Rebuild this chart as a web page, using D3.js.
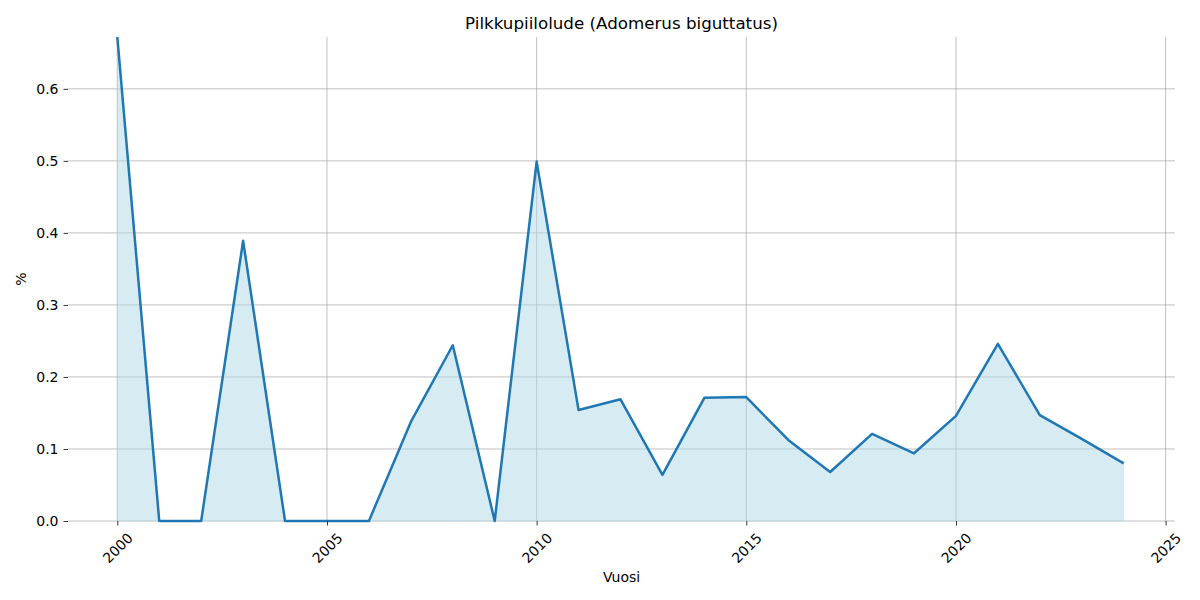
<!DOCTYPE html>
<html>
<head>
<meta charset="utf-8">
<script src="https://cdn.jsdelivr.net/npm/d3@7"></script>
<style>
  body { margin: 0; background: #fff; }
  text { font-family: "DejaVu Sans", sans-serif; }
</style>
</head>
<body>
<script>
// Data
const years = [2000, 2001, 2002, 2003, 2004, 2005, 2006, 2007, 2008, 2009, 2010, 2011,
               2012, 2013, 2014, 2015, 2016, 2017, 2018, 2019, 2020, 2021, 2022, 2023, 2024];
const values = [0.672, 0, 0, 0.389, 0, 0, 0, 0.1375, 0.244, 0, 0.499, 0.154,
                0.169, 0.064, 0.171, 0.172, 0.1125, 0.068, 0.121, 0.094, 0.146, 0.246, 0.147, 0.114, 0.080];
const xTicks = [2000, 2005, 2010, 2015, 2020, 2025];
const yTicks = [0, 0.1, 0.2, 0.3, 0.4, 0.5, 0.6];

const titleText = "Pilkkupiilolude (Adomerus biguttatus)";
const xLabel = "Vuosi";
const yLabel = "%";

/* ---------------------------- */
/* CANVAS                       */
/* ---------------------------- */
const w = 1200, h = 600;
const margins = {top: 37, right: 25, bottom: 79, left: 68};

const data = years.map((y, i) => ({year: y, value: values[i]}));

const svg = d3.select("body").append("svg")
    .attr("width", w)
    .attr("height", h);

// matplotlib-like 5% x margins
const span = years[years.length - 1] - years[0];
const x = d3.scaleLinear()
    .domain([years[0] - span * 0.05, years[years.length - 1] + span * 0.05])
    .range([margins.left - 1, w - margins.right - 1]);
const y = d3.scaleLinear()
    .domain([0, d3.max(values)])
    .range([h - margins.bottom, margins.top]);

// Grid lines
svg.append("g").selectAll("line.xg")
    .data(xTicks)
    .enter().append("line")
        .attr("x1", d => x(d)).attr("x2", d => x(d))
        .attr("y1", margins.top).attr("y2", h - margins.bottom)
        .attr("stroke", "#b0b0b0").attr("stroke-width", 0.8);
svg.append("g").selectAll("line.yg")
    .data(yTicks)
    .enter().append("line")
        .attr("x1", margins.left).attr("x2", w - margins.right)
        .attr("y1", d => y(d)).attr("y2", d => y(d))
        .attr("stroke", "#b0b0b0").attr("stroke-width", 0.8);

// Area fill
const area = d3.area()
    .x(d => x(d.year))
    .y0(y(0))
    .y1(d => y(d.value));
svg.append("path")
    .datum(data)
    .attr("d", area)
    .attr("fill", "lightblue")
    .attr("fill-opacity", 0.5)
    .attr("stroke", "lightblue")
    .attr("stroke-opacity", 0.3);

// Line
const line = d3.line()
    .x(d => x(d.year))
    .y(d => y(d.value));
svg.append("path")
    .datum(data)
    .attr("d", line)
    .attr("fill", "none")
    .attr("stroke", "#1f77b4")
    .attr("stroke-width", 2.5)
    .attr("stroke-linejoin", "round");

// Axes (no spines)
const xAxis = svg.append("g")
    .attr("transform", "translate(0," + (h - margins.bottom) + ")")
    .call(d3.axisBottom(x).tickValues(xTicks).tickFormat(d3.format("d")).tickSize(4.5).tickPadding(4));
xAxis.select(".domain").remove();
// rotated labels centred under each tick, like matplotlib rotation=45
xAxis.selectAll("text")
    .attr("font-size", "14px")
    .attr("fill", "#000")
    .attr("text-anchor", "middle")
    .attr("y", 27)
    .attr("dy", "0.35em")
    .attr("transform", "rotate(-45,0,27)");
xAxis.selectAll("line").attr("stroke", "#000").attr("stroke-width", 0.8);

const yAxis = svg.append("g")
    .attr("transform", "translate(" + margins.left + ",0)")
    .call(d3.axisLeft(y).tickValues(yTicks).tickFormat(d3.format(".1f")).tickSize(4.5).tickPadding(5));
yAxis.select(".domain").remove();
yAxis.selectAll("text").attr("font-size", "14px").attr("fill", "#000");
yAxis.selectAll("line").attr("stroke", "#000").attr("stroke-width", 0.8);

// Labels
svg.append("text")
    .attr("x", (margins.left + w - margins.right) / 2)
    .attr("y", 29)
    .attr("text-anchor", "middle")
    .attr("font-size", "16.7px")
    .text(titleText);
svg.append("text")
    .attr("x", (margins.left + w - margins.right) / 2)
    .attr("y", 582)
    .attr("text-anchor", "middle")
    .attr("font-size", "14px")
    .text(xLabel);
svg.append("text")
    .attr("transform", "translate(26," + ((margins.top + h - margins.bottom) / 2) + ") rotate(-90)")
    .attr("text-anchor", "middle")
    .attr("font-size", "14px")
    .text(yLabel);
</script>
</body>
</html>
